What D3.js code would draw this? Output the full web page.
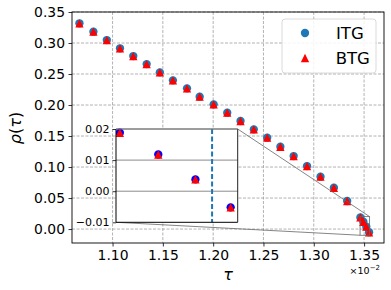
<!DOCTYPE html>
<html><head><meta charset="utf-8">
<script src="https://cdn.jsdelivr.net/npm/d3@7"></script>
<style>body{margin:0;background:#fff}svg{display:block}text{font-family:"DejaVu Sans",sans-serif}</style>
</head><body><svg id="c" width="391" height="290"></svg>
<script>
const tauITG = [1.0671,1.0810,1.0943,1.1074,1.1206,1.1339,1.1470,1.1600,1.1740,1.1866,1.2005,1.2140,1.2272,1.2404,1.2537,1.2668,1.2800,1.2933,1.3067,1.3200,1.3332,1.3463,1.3493,1.3522,1.35495];
const rhoITG = [0.3318,0.3182,0.3048,0.2915,0.2790,0.2660,0.2527,0.2398,0.2269,0.2134,0.2011,0.1876,0.1742,0.1608,0.1473,0.1327,0.1177,0.1016,0.0844,0.0666,0.0452,0.0188,0.0118,0.0038,-0.0052];
const tauBTG = [1.0671,1.0810,1.0943,1.1074,1.1206,1.1339,1.1470,1.1600,1.1740,1.1866,1.2005,1.2140,1.2272,1.2404,1.2537,1.2668,1.2800,1.2933,1.3067,1.3200,1.3332,1.3463,1.3493,1.3522,1.35495];
const rhoBTG = [0.3318,0.3182,0.3048,0.2915,0.2790,0.2660,0.2527,0.2398,0.2269,0.2134,0.2011,0.1876,0.1742,0.1608,0.1473,0.1327,0.1177,0.1016,0.0844,0.0666,0.0452,0.0188,0.0118,0.0038,-0.0052];
const xTicks = [1.10,1.15,1.20,1.25,1.30,1.35];
const yTicks = [0.00,0.05,0.10,0.15,0.20,0.25,0.30,0.35];
const insetYTicks = [-0.01,0.00,0.01,0.02];
const insetXDomain = [1.3460,1.3555];
const insetYDomain = [-0.01,0.02];
const tauCritical = 1.3535;
const seriesNames = ["ITG","BTG"];

const svg = d3.select("#c");
const L=72,R=384,T=12,B=243;
const x = d3.scaleLinear().domain([1.0597,1.3698]).range([L,R]);
const y = d3.scaleLinear().domain([-0.0225,0.35]).range([B,T]);
const itg = tauITG.map((t,i)=>({t, r:rhoITG[i]}));
const btg = tauBTG.map((t,i)=>({t, r:rhoBTG[i]}));

// grid
const grid = svg.append("g").attr("stroke","#a0a0a0").attr("stroke-width",0.8).attr("stroke-dasharray","3,1.5");
xTicks.forEach(v=>grid.append("line").attr("x1",x(v)).attr("x2",x(v)).attr("y1",T).attr("y2",B));
yTicks.forEach(v=>grid.append("line").attr("x1",L).attr("x2",R).attr("y1",y(v)).attr("y2",y(v)));

const ms = 8.3;
const tri = d3.symbol().type({draw(ctx,size){const h=ms/2;ctx.moveTo(0,-h);ctx.lineTo(h,h);ctx.lineTo(-h,h);ctx.closePath();}});

function drawPoints(g, data1, data2, xs, ys, c1) {
  g.selectAll(".c").data(data1).join("circle").attr("cx",d=>xs(d.t)).attr("cy",d=>ys(d.r)).attr("r",ms/2).attr("fill",c1);
  g.selectAll(".t").data(data2).join("path").attr("d",tri()).attr("transform",d=>`translate(${xs(d.t)},${ys(d.r)})`).attr("fill","#ff0000");
}
const mainPts = svg.append("g");
drawPoints(mainPts, itg, btg, x, y, "#1f77b4");

// axes
const xa = svg.append("g").attr("transform",`translate(0,${B})`).call(d3.axisBottom(x).tickValues(xTicks).tickFormat(d3.format(".2f")).tickSize(3.5).tickPadding(3.5).tickSizeOuter(0));
const ya = svg.append("g").attr("transform",`translate(${L},0)`).call(d3.axisLeft(y).tickValues(yTicks).tickFormat(d3.format(".2f")).tickSize(3.5).tickPadding(3.5).tickSizeOuter(0));
[xa,ya].forEach(a=>{a.select(".domain").remove();a.selectAll("text").attr("font-size","13.9px").attr("fill","#000").attr("font-family","DejaVu Sans");a.selectAll("line").attr("stroke","#000").attr("stroke-width",0.8);});
svg.append("rect").attr("x",L).attr("y",T).attr("width",R-L).attr("height",B-T).attr("fill","none").attr("stroke","#000").attr("stroke-width",0.9);

// inset indicator
const iL=116,iR=237.7,iT=129,iB=222.3;
const rx0=x(insetXDomain[0]), rx1=x(insetXDomain[1]), ry0=y(insetYDomain[1]), ry1=y(insetYDomain[0]);
svg.append("rect").attr("x",rx0).attr("y",ry0).attr("width",rx1-rx0).attr("height",ry1-ry0).attr("fill","none").attr("stroke","#666").attr("stroke-width",0.8);
svg.append("line").attr("x1",iR).attr("y1",iT).attr("x2",rx1).attr("y2",ry0).attr("stroke","#666").attr("stroke-width",0.8);
svg.append("line").attr("x1",iL).attr("y1",iB).attr("x2",rx0).attr("y2",ry1).attr("stroke","#666").attr("stroke-width",0.8);

// inset
const xi = d3.scaleLinear().domain(insetXDomain).range([iL,iR]);
const yi = d3.scaleLinear().domain(insetYDomain).range([iB,iT]);
const ins = svg.append("g");
ins.append("rect").attr("x",iL).attr("y",iT).attr("width",iR-iL).attr("height",iB-iT).attr("fill","#fff");
ins.append("defs").append("clipPath").attr("id","ic").append("rect").attr("x",iL).attr("y",iT-5).attr("width",iR-iL).attr("height",iB-iT+10);
[0.00,0.01,0.02].forEach(v=>ins.append("line").attr("x1",iL).attr("x2",iR).attr("y1",yi(v)).attr("y2",yi(v)).attr("stroke","#8a8a8a").attr("stroke-width",1));
ins.append("line").attr("x1",xi(tauCritical)).attr("x2",xi(tauCritical)).attr("y1",iT).attr("y2",iB).attr("stroke","#1f77b4").attr("stroke-width",2).attr("stroke-dasharray","5,2.5");
const inPts = ins.append("g").attr("clip-path","url(#ic)");
const inF = d=>d.t>=insetXDomain[0]&&d.t<=insetXDomain[1];
drawPoints(inPts, itg.filter(inF), btg.filter(inF), xi, yi, "#0000ff");
ins.append("line").attr("x1",iL).attr("x2",iL).attr("y1",iT).attr("y2",iB).attr("stroke","#000").attr("stroke-width",1);
ins.append("line").attr("x1",iL).attr("x2",iR).attr("y1",iB).attr("y2",iB).attr("stroke","#000").attr("stroke-width",1);
ins.append("line").attr("x1",iR).attr("x2",iR).attr("y1",iT).attr("y2",iB).attr("stroke","#222").attr("stroke-width",1);
ins.append("line").attr("x1",iL).attr("x2",iR).attr("y1",iT).attr("y2",iT).attr("stroke","#777").attr("stroke-width",1.2);
const iya = ins.append("g").attr("transform",`translate(${iL},0)`).call(d3.axisLeft(yi).tickValues(insetYTicks).tickFormat(d=>d3.format(".2f")(d).replace("-","\u2212")).tickSize(3.5).tickPadding(3).tickSizeOuter(0));
iya.select(".domain").remove();
iya.selectAll("text").attr("font-size","11px").attr("fill","#000").attr("font-family","DejaVu Sans");
iya.selectAll("line").attr("stroke","#000").attr("stroke-width",0.8);

// legend
const lg = svg.append("g");
lg.append("rect").attr("x",282).attr("y",19).attr("width",94).attr("height",54).attr("rx",3).attr("fill","#fff").attr("fill-opacity",0.85).attr("stroke","#d0d0d0").attr("stroke-width",0.8);
lg.append("circle").attr("cx",305).attr("cy",33).attr("r",ms/2).attr("fill","#1f77b4");
lg.append("path").attr("d",tri()).attr("transform","translate(305,58)").attr("fill","#ff0000");
lg.append("text").attr("x",336).attr("y",39.3).attr("font-size","16.5px").text(seriesNames[0]);
lg.append("text").attr("x",335.7).attr("y",64).attr("font-size","16.5px").text(seriesNames[1]);

// labels
const yl = svg.append("text").attr("transform","translate(21,128) rotate(-90)").attr("text-anchor","middle").attr("font-size","16px");
yl.append("tspan").attr("font-style","italic").text("ρ");
yl.append("tspan").text("(");
yl.append("tspan").attr("font-style","italic").text("τ");
yl.append("tspan").text(")");
svg.append("text").attr("x",228).attr("y",280).attr("text-anchor","middle").attr("font-size","16px").attr("font-style","italic").text("τ");
const ex = svg.append("text").attr("x",380).attr("y",274).attr("text-anchor","end").attr("font-size","9.5px");
ex.append("tspan").text("×10");
ex.append("tspan").attr("dy",-4).attr("font-size","7px").text("−2");
</script></body></html>
